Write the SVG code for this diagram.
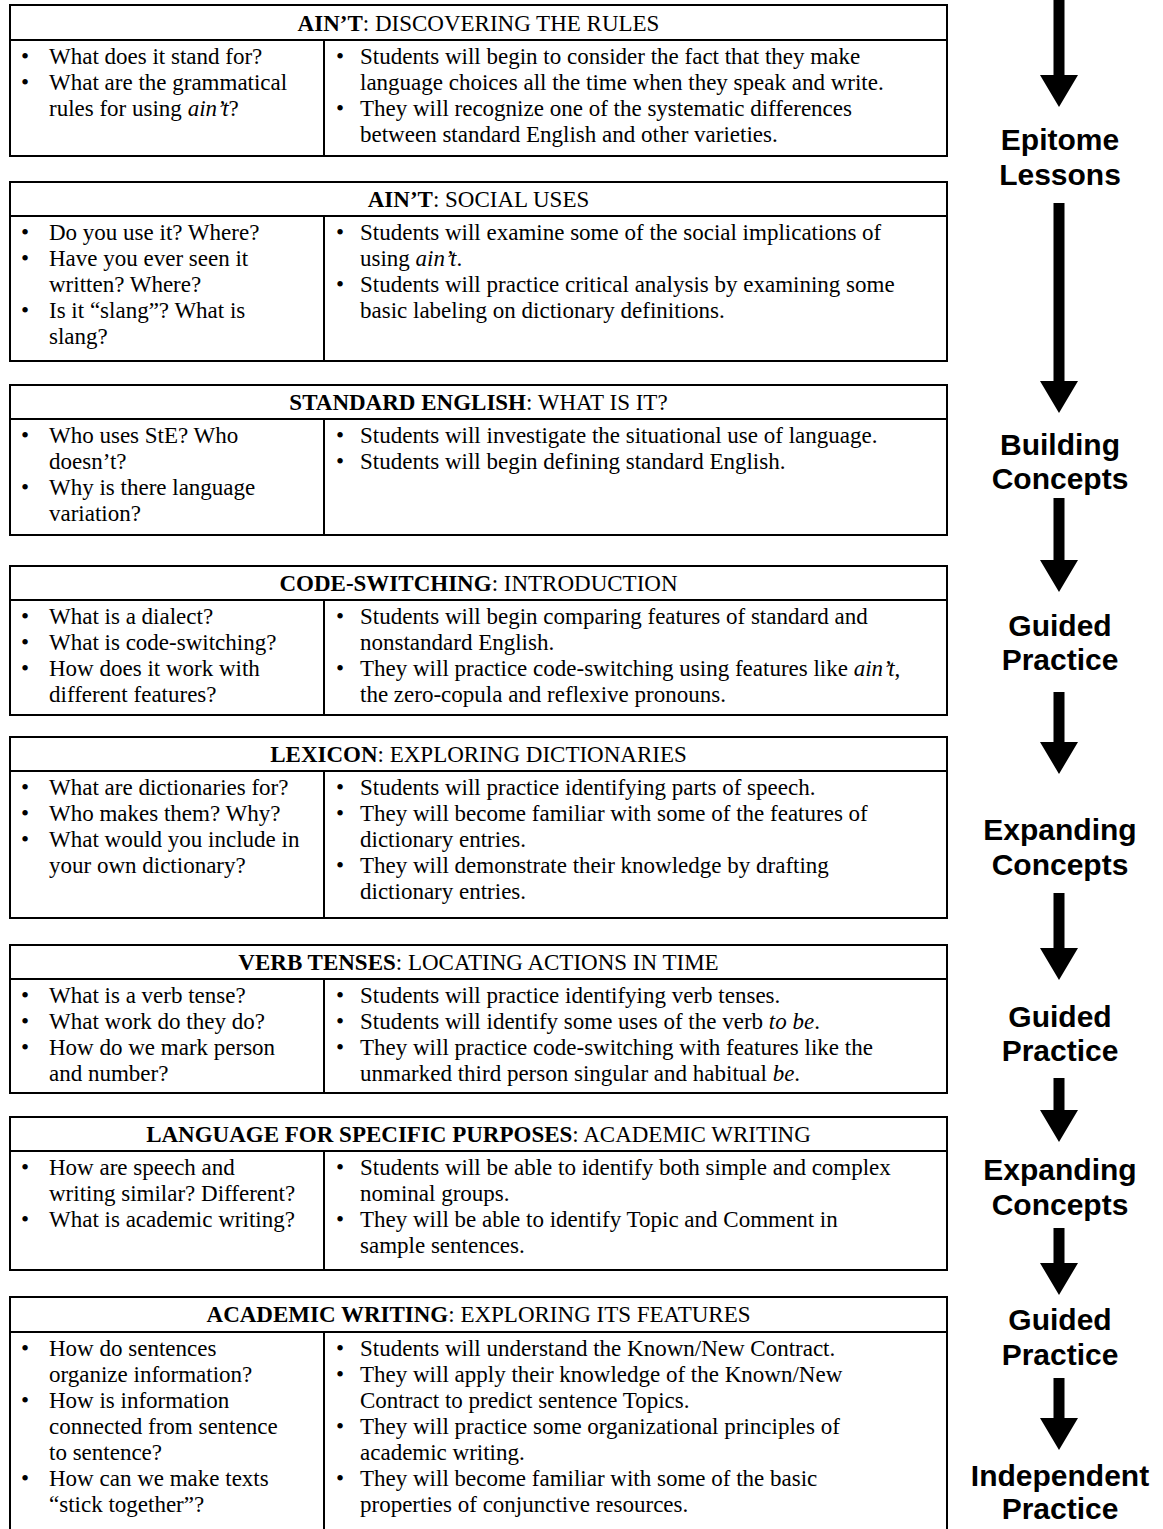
<svg xmlns="http://www.w3.org/2000/svg" width="1163" height="1529" viewBox="0 0 1163 1529">
<defs>
<style>
.bx{fill:none;stroke:#000;stroke-width:2}
.ln{stroke:#000;stroke-width:2}
.t{font-family:"Liberation Serif","Times New Roman",serif;font-size:23px;fill:#000}
.h{font-family:"Liberation Serif","Times New Roman",serif;font-size:23px;fill:#000;text-anchor:middle}
.hb{font-weight:bold}
.lb{font-family:"Liberation Sans",Arial,sans-serif;font-size:30px;font-weight:bold;fill:#000;text-anchor:middle}
.ar{fill:#000}
</style>
</defs>
<rect width="1163" height="1529" fill="#fff"/>

<g id="box1">
<rect class="bx" x="10" y="5" width="937" height="151"/>
<line class="ln" x1="10" y1="40" x2="947" y2="40"/>
<line class="ln" x1="324" y1="40" x2="324" y2="156"/>
<text class="h" x="478.5" y="31"><tspan class="hb">AIN’T</tspan>: DISCOVERING THE RULES</text>
<text class="t" x="21" y="64">•</text><text class="t" x="49" y="64">What does it stand for?</text>
<text class="t" x="21" y="90">•</text><text class="t" x="49" y="90">What are the grammatical</text>
<text class="t" x="49" y="116">rules for using <tspan font-style="italic">ain’t</tspan>?</text>
<text class="t" x="336" y="64">•</text><text class="t" x="360" y="64">Students will begin to consider the fact that they make</text>
<text class="t" x="360" y="90">language choices all the time when they speak and write.</text>
<text class="t" x="336" y="116">•</text><text class="t" x="360" y="116">They will recognize one of the systematic differences</text>
<text class="t" x="360" y="142">between standard English and other varieties.</text>
</g>

<g id="box2">
<rect class="bx" x="10" y="182" width="937" height="179"/>
<line class="ln" x1="10" y1="216" x2="947" y2="216"/>
<line class="ln" x1="324" y1="216" x2="324" y2="361"/>
<text class="h" x="478.5" y="207"><tspan class="hb">AIN’T</tspan>: SOCIAL USES</text>
<text class="t" x="21" y="240">•</text><text class="t" x="49" y="240">Do you use it? Where?</text>
<text class="t" x="21" y="266">•</text><text class="t" x="49" y="266">Have you ever seen it</text>
<text class="t" x="49" y="292">written? Where?</text>
<text class="t" x="21" y="318">•</text><text class="t" x="49" y="318">Is it “slang”? What is</text>
<text class="t" x="49" y="344">slang?</text>
<text class="t" x="336" y="240">•</text><text class="t" x="360" y="240">Students will examine some of the social implications of</text>
<text class="t" x="360" y="266">using <tspan font-style="italic">ain’t</tspan>.</text>
<text class="t" x="336" y="292">•</text><text class="t" x="360" y="292">Students will practice critical analysis by examining some</text>
<text class="t" x="360" y="318">basic labeling on dictionary definitions.</text>
</g>

<g id="box3">
<rect class="bx" x="10" y="385" width="937" height="150"/>
<line class="ln" x1="10" y1="419" x2="947" y2="419"/>
<line class="ln" x1="324" y1="419" x2="324" y2="535"/>
<text class="h" x="478.5" y="410"><tspan class="hb">STANDARD ENGLISH</tspan>: WHAT IS IT?</text>
<text class="t" x="21" y="443">•</text><text class="t" x="49" y="443">Who uses StE? Who</text>
<text class="t" x="49" y="469">doesn’t?</text>
<text class="t" x="21" y="495">•</text><text class="t" x="49" y="495">Why is there language</text>
<text class="t" x="49" y="521">variation?</text>
<text class="t" x="336" y="443">•</text><text class="t" x="360" y="443">Students will investigate the situational use of language.</text>
<text class="t" x="336" y="469">•</text><text class="t" x="360" y="469">Students will begin defining standard English.</text>
</g>

<g id="box4">
<rect class="bx" x="10" y="566" width="937" height="149"/>
<line class="ln" x1="10" y1="600" x2="947" y2="600"/>
<line class="ln" x1="324" y1="600" x2="324" y2="715"/>
<text class="h" x="478.5" y="591"><tspan class="hb">CODE-SWITCHING</tspan>: INTRODUCTION</text>
<text class="t" x="21" y="624">•</text><text class="t" x="49" y="624">What is a dialect?</text>
<text class="t" x="21" y="650">•</text><text class="t" x="49" y="650">What is code-switching?</text>
<text class="t" x="21" y="676">•</text><text class="t" x="49" y="676">How does it work with</text>
<text class="t" x="49" y="702">different features?</text>
<text class="t" x="336" y="624">•</text><text class="t" x="360" y="624">Students will begin comparing features of standard and</text>
<text class="t" x="360" y="650">nonstandard English.</text>
<text class="t" x="336" y="676">•</text><text class="t" x="360" y="676">They will practice code-switching using features like <tspan font-style="italic">ain’t</tspan>,</text>
<text class="t" x="360" y="702">the zero-copula and reflexive pronouns.</text>
</g>

<g id="box5">
<rect class="bx" x="10" y="737" width="937" height="181"/>
<line class="ln" x1="10" y1="771" x2="947" y2="771"/>
<line class="ln" x1="324" y1="771" x2="324" y2="918"/>
<text class="h" x="478.5" y="762"><tspan class="hb">LEXICON</tspan>: EXPLORING DICTIONARIES</text>
<text class="t" x="21" y="795">•</text><text class="t" x="49" y="795">What are dictionaries for?</text>
<text class="t" x="21" y="821">•</text><text class="t" x="49" y="821">Who makes them? Why?</text>
<text class="t" x="21" y="847">•</text><text class="t" x="49" y="847">What would you include in</text>
<text class="t" x="49" y="873">your own dictionary?</text>
<text class="t" x="336" y="795">•</text><text class="t" x="360" y="795">Students will practice identifying parts of speech.</text>
<text class="t" x="336" y="821">•</text><text class="t" x="360" y="821">They will become familiar with some of the features of</text>
<text class="t" x="360" y="847">dictionary entries.</text>
<text class="t" x="336" y="873">•</text><text class="t" x="360" y="873">They will demonstrate their knowledge by drafting</text>
<text class="t" x="360" y="899">dictionary entries.</text>
</g>

<g id="box6">
<rect class="bx" x="10" y="945" width="937" height="148"/>
<line class="ln" x1="10" y1="979" x2="947" y2="979"/>
<line class="ln" x1="324" y1="979" x2="324" y2="1093"/>
<text class="h" x="478.5" y="970"><tspan class="hb">VERB TENSES</tspan>: LOCATING ACTIONS IN TIME</text>
<text class="t" x="21" y="1003">•</text><text class="t" x="49" y="1003">What is a verb tense?</text>
<text class="t" x="21" y="1029">•</text><text class="t" x="49" y="1029">What work do they do?</text>
<text class="t" x="21" y="1055">•</text><text class="t" x="49" y="1055">How do we mark person</text>
<text class="t" x="49" y="1081">and number?</text>
<text class="t" x="336" y="1003">•</text><text class="t" x="360" y="1003">Students will practice identifying verb tenses.</text>
<text class="t" x="336" y="1029">•</text><text class="t" x="360" y="1029">Students will identify some uses of the verb <tspan font-style="italic">to be</tspan>.</text>
<text class="t" x="336" y="1055">•</text><text class="t" x="360" y="1055">They will practice code-switching with features like the</text>
<text class="t" x="360" y="1081">unmarked third person singular and habitual <tspan font-style="italic">be</tspan>.</text>
</g>

<g id="box7">
<rect class="bx" x="10" y="1117" width="937" height="153"/>
<line class="ln" x1="10" y1="1151" x2="947" y2="1151"/>
<line class="ln" x1="324" y1="1151" x2="324" y2="1270"/>
<text class="h" x="478.5" y="1142"><tspan class="hb">LANGUAGE FOR SPECIFIC PURPOSES</tspan>: ACADEMIC WRITING</text>
<text class="t" x="21" y="1175">•</text><text class="t" x="49" y="1175">How are speech and</text>
<text class="t" x="49" y="1201">writing similar? Different?</text>
<text class="t" x="21" y="1227">•</text><text class="t" x="49" y="1227">What is academic writing?</text>
<text class="t" x="336" y="1175">•</text><text class="t" x="360" y="1175">Students will be able to identify both simple and complex</text>
<text class="t" x="360" y="1201">nominal groups.</text>
<text class="t" x="336" y="1227">•</text><text class="t" x="360" y="1227">They will be able to identify Topic and Comment in</text>
<text class="t" x="360" y="1253">sample sentences.</text>
</g>

<g id="box8">
<rect class="bx" x="10" y="1297" width="937" height="250"/>
<line class="ln" x1="10" y1="1332" x2="947" y2="1332"/>
<line class="ln" x1="324" y1="1332" x2="324" y2="1547"/>
<text class="h" x="478.5" y="1322"><tspan class="hb">ACADEMIC WRITING</tspan>: EXPLORING ITS FEATURES</text>
<text class="t" x="21" y="1356">•</text><text class="t" x="49" y="1356">How do sentences</text>
<text class="t" x="49" y="1382">organize information?</text>
<text class="t" x="21" y="1408">•</text><text class="t" x="49" y="1408">How is information</text>
<text class="t" x="49" y="1434">connected from sentence</text>
<text class="t" x="49" y="1460">to sentence?</text>
<text class="t" x="21" y="1486">•</text><text class="t" x="49" y="1486">How can we make texts</text>
<text class="t" x="49" y="1512">“stick together”?</text>
<text class="t" x="336" y="1356">•</text><text class="t" x="360" y="1356">Students will understand the Known/New Contract.</text>
<text class="t" x="336" y="1382">•</text><text class="t" x="360" y="1382">They will apply their knowledge of the Known/New</text>
<text class="t" x="360" y="1408">Contract to predict sentence Topics.</text>
<text class="t" x="336" y="1434">•</text><text class="t" x="360" y="1434">They will practice some organizational principles of</text>
<text class="t" x="360" y="1460">academic writing.</text>
<text class="t" x="336" y="1486">•</text><text class="t" x="360" y="1486">They will become familiar with some of the basic</text>
<text class="t" x="360" y="1512">properties of conjunctive resources.</text>
</g>

<g id="stage-epitome"><text class="lb" x="1060" y="150">Epitome</text><text class="lb" x="1060" y="185">Lessons</text></g>
<g id="stage-building"><text class="lb" x="1060" y="455">Building</text><text class="lb" x="1060" y="489">Concepts</text></g>
<g id="stage-guided1"><text class="lb" x="1060" y="636">Guided</text><text class="lb" x="1060" y="670">Practice</text></g>
<g id="stage-expanding1"><text class="lb" x="1060" y="840">Expanding</text><text class="lb" x="1060" y="875">Concepts</text></g>
<g id="stage-guided2"><text class="lb" x="1060" y="1027">Guided</text><text class="lb" x="1060" y="1061">Practice</text></g>
<g id="stage-expanding2"><text class="lb" x="1060" y="1180">Expanding</text><text class="lb" x="1060" y="1215">Concepts</text></g>
<g id="stage-guided3"><text class="lb" x="1060" y="1330">Guided</text><text class="lb" x="1060" y="1365">Practice</text></g>
<g id="stage-independent"><text class="lb" x="1060" y="1486">Independent</text><text class="lb" x="1060" y="1519">Practice</text></g>

<g id="connectors">
<polygon class="ar" points="1053.5,0 1064.5,0 1064.5,75 1078,75 1059,107 1040,75 1053.5,75"/>
<polygon class="ar" points="1053.5,203 1064.5,203 1064.5,381 1078,381 1059,413 1040,381 1053.5,381"/>
<polygon class="ar" points="1053.5,498 1064.5,498 1064.5,560 1078,560 1059,592 1040,560 1053.5,560"/>
<polygon class="ar" points="1053.5,692 1064.5,692 1064.5,742 1078,742 1059,774 1040,742 1053.5,742"/>
<polygon class="ar" points="1053.5,893 1064.5,893 1064.5,948 1078,948 1059,980 1040,948 1053.5,948"/>
<polygon class="ar" points="1053.5,1078 1064.5,1078 1064.5,1110 1078,1110 1059,1142 1040,1110 1053.5,1110"/>
<polygon class="ar" points="1053.5,1228 1064.5,1228 1064.5,1263 1078,1263 1059,1295 1040,1263 1053.5,1263"/>
<polygon class="ar" points="1053.5,1378 1064.5,1378 1064.5,1418 1078,1418 1059,1450 1040,1418 1053.5,1418"/>
</g>
</svg>
